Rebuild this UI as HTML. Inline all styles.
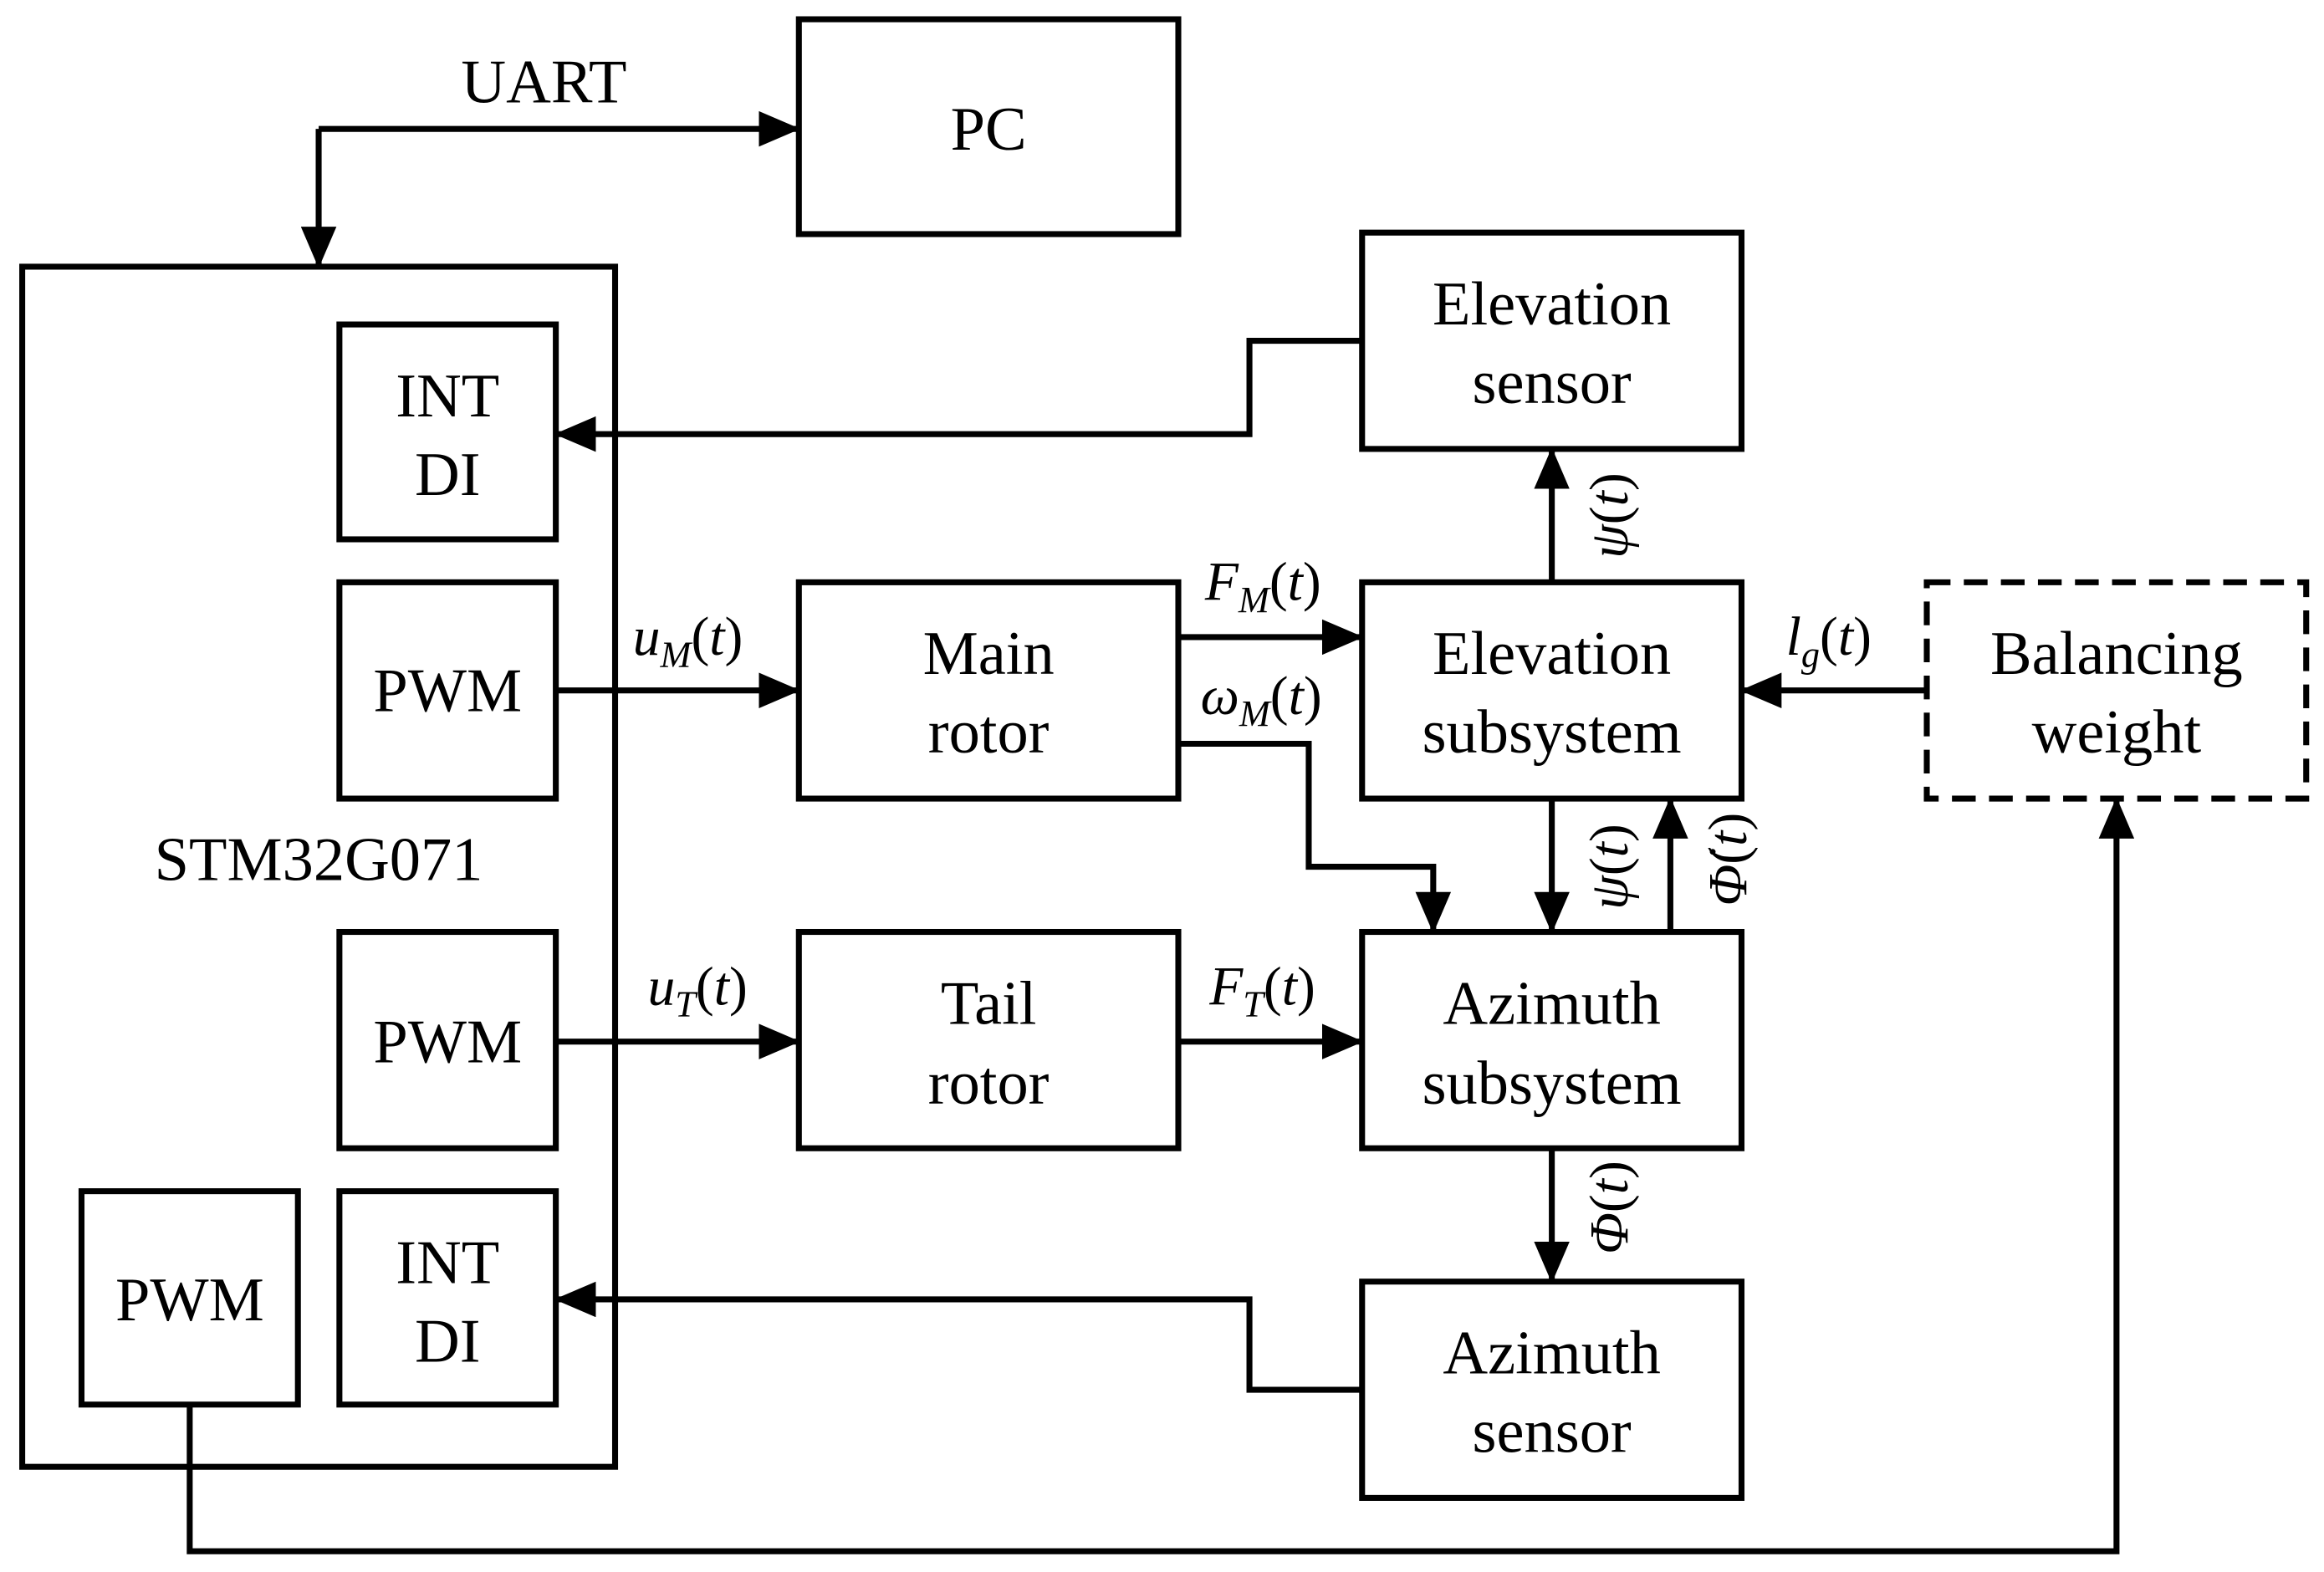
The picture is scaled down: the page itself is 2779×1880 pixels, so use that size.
<!DOCTYPE html>
<html><head><meta charset="utf-8"><style>
html,body{margin:0;padding:0;background:#fff;}
svg{display:block;}
text{font-family:"Liberation Serif",serif;font-size:42px;fill:#000;}
.m{font-style:italic;font-size:37px;}
</style></head><body>
<svg width="2779" height="1880" viewBox="0 0 1568 1061" preserveAspectRatio="none" xmlns="http://www.w3.org/2000/svg">
<defs>
<marker id="a" markerWidth="28" markerHeight="24" refX="27" refY="12" orient="auto" markerUnits="userSpaceOnUse">
<path d="M0,0 L28,12 L0,24 Z" fill="#000"/></marker>
</defs>
<g fill="none" stroke="#000" stroke-width="4">
<rect x="539" y="13" width="256" height="145"/>
<rect x="15" y="180" width="400" height="810"/>
<rect x="229" y="219" width="146" height="145"/>
<rect x="229" y="393" width="146" height="146"/>
<rect x="229" y="629" width="146" height="146"/>
<rect x="55" y="804" width="146" height="144"/>
<rect x="229" y="804" width="146" height="144"/>
<rect x="539" y="393" width="256" height="146"/>
<rect x="539" y="629" width="256" height="146"/>
<rect x="919" y="157" width="256" height="146"/>
<rect x="919" y="393" width="256" height="146"/>
<rect x="919" y="629" width="256" height="146"/>
<rect x="919" y="865" width="256" height="146"/>
<rect x="1300" y="393" width="256" height="146" stroke-dasharray="16,9"/>

<path d="M215,87 L539,87" marker-end="url(#a)"/>
<path d="M215,87 L215,180" marker-end="url(#a)"/>
<path d="M919,230 L843,230 L843,293 L375,293" marker-end="url(#a)"/>
<path d="M375,466 L539,466" marker-end="url(#a)"/>
<path d="M795,430 L919,430" marker-end="url(#a)"/>
<path d="M795,502 L883,502 L883,585 L967,585 L967,629" marker-end="url(#a)"/>
<path d="M375,703 L539,703" marker-end="url(#a)"/>
<path d="M795,703 L919,703" marker-end="url(#a)"/>
<path d="M1047,393 L1047,303" marker-end="url(#a)"/>
<path d="M1047,539 L1047,629" marker-end="url(#a)"/>
<path d="M1127,629 L1127,539" marker-end="url(#a)"/>
<path d="M1047,775 L1047,865" marker-end="url(#a)"/>
<path d="M919,938 L843,938 L843,877 L375,877" marker-end="url(#a)"/>
<path d="M1300,466 L1175,466" marker-end="url(#a)"/>
<path d="M128,948 L128,1047 L1428,1047 L1428,539" marker-end="url(#a)"/>
</g>
<g text-anchor="middle">
<text x="667" y="101">PC</text>
<text x="367" y="69">UART</text>
<text x="302" y="281">INT</text><text x="302" y="334">DI</text>
<text x="302" y="480">PWM</text>
<text x="215" y="594">STM32G071</text>
<text x="302" y="717">PWM</text>
<text x="128" y="891">PWM</text>
<text x="302" y="866">INT</text><text x="302" y="919">DI</text>
<text x="667" y="455">Main</text><text x="667" y="508">rotor</text>
<text x="667" y="691">Tail</text><text x="667" y="745">rotor</text>
<text x="1047" y="219">Elevation</text><text x="1047" y="272">sensor</text>
<text x="1047" y="455">Elevation</text><text x="1047" y="508">subsystem</text>
<text x="1047" y="691">Azimuth</text><text x="1047" y="745">subsystem</text>
<text x="1047" y="927">Azimuth</text><text x="1047" y="980">sensor</text>
<text x="1428" y="455">Balancing</text><text x="1428" y="508">weight</text>
</g>
<g>
<text class="m" x="427" y="442">u<tspan font-size="25" dy="8">M</tspan><tspan dy="-8" font-style="normal">(</tspan>t<tspan font-style="normal">)</tspan></text>
<text class="m" x="437" y="678">u<tspan font-size="25" dy="8">T</tspan><tspan dy="-8" font-style="normal">(</tspan>t<tspan font-style="normal">)</tspan></text>
<text class="m" x="813" y="405">F<tspan font-size="25" dy="8">M</tspan><tspan dy="-8" font-style="normal">(</tspan>t<tspan font-style="normal">)</tspan></text>
<text class="m" x="810" y="482">ω<tspan font-size="25" dy="8">M</tspan><tspan dy="-8" font-style="normal">(</tspan>t<tspan font-style="normal">)</tspan></text>
<text class="m" x="816" y="678">F<tspan font-size="25" dy="8">T</tspan><tspan dy="-8" font-style="normal">(</tspan>t<tspan font-style="normal">)</tspan></text>
<text class="m" x="1205" y="442">l<tspan font-size="25" dy="8">g</tspan><tspan dy="-8" font-style="normal">(</tspan>t<tspan font-style="normal">)</tspan></text>
<text class="m" transform="translate(1098,348) rotate(-90)" text-anchor="middle">ψ<tspan font-style="normal">(</tspan>t<tspan font-style="normal">)</tspan></text>
<text class="m" transform="translate(1098,585) rotate(-90)" text-anchor="middle">ψ<tspan font-style="normal">(</tspan>t<tspan font-style="normal">)</tspan></text>
<text class="m" transform="translate(1178,580) rotate(-90)" text-anchor="middle">Φ̇<tspan font-style="normal">(</tspan>t<tspan font-style="normal">)</tspan></text>
<text class="m" transform="translate(1098,815) rotate(-90)" text-anchor="middle">Φ<tspan font-style="normal">(</tspan>t<tspan font-style="normal">)</tspan></text>
</g>
</svg>
</body></html>
